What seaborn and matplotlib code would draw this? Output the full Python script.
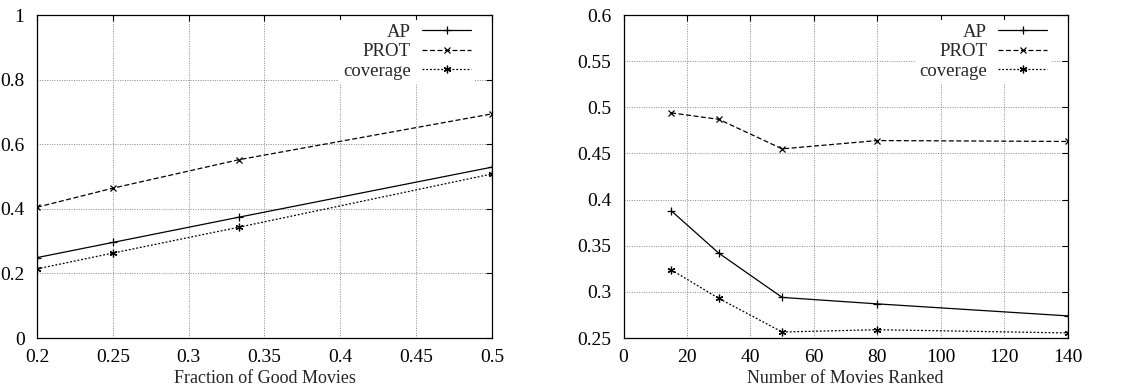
import numpy as np
import pandas as pd
import seaborn as sns
import matplotlib.pyplot as plt
from matplotlib.ticker import FormatStrFormatter

# left panel data
frac_good = [0.2, 0.25, 0.333, 0.5]
ap_frac = [0.249, 0.296, 0.374, 0.529]
prot_frac = [0.405, 0.464, 0.552, 0.694]
cov_frac = [0.214, 0.263, 0.343, 0.508]

# right panel data
n_ranked = [15, 30, 50, 80, 140]
ap_rank = [0.388, 0.342, 0.294, 0.287, 0.274]
prot_rank = [0.494, 0.487, 0.455, 0.464, 0.463]
cov_rank = [0.324, 0.293, 0.2565, 0.259, 0.2555]

series_names = ['AP', 'PROT', 'coverage']

sns.set_style("white")
plt.rcParams['font.family'] = ['Liberation Serif', 'DejaVu Serif']

styles = {'AP': dict(ls='-', marker='+', ms=6),
          'PROT': dict(ls=(0, (4, 2)), marker='x', ms=4),
          'coverage': dict(ls=(0, (1.5, 1.5)), marker=(6, 2, 0), ms=5.5)}

fig = plt.figure(figsize=(11.4, 3.91), dpi=100)
ax1 = fig.add_axes([0.0325, 0.1355, 0.399, 0.826])
ax2 = fig.add_axes([0.547, 0.1355, 0.3895, 0.826])


def draw(ax, x, ys, xlim, ylim, xticks, yticks, xlabel):
    for name, y in zip(series_names, ys):
        st = styles[name]
        sns.lineplot(x=x, y=y, ax=ax, color='black', lw=0.9, linestyle=st['ls'],
                     marker=st['marker'], markersize=st['ms'], markeredgewidth=0.9,
                     markeredgecolor='black', label=name)
    ax.set_xlim(*xlim)
    ax.set_ylim(*ylim)
    ax.set_xticks(xticks)
    ax.set_yticks(yticks)
    ax.xaxis.set_major_formatter(FormatStrFormatter('%g'))
    ax.yaxis.set_major_formatter(FormatStrFormatter('%g'))
    ax.grid(True, color='#888888', ls=(0, (1, 1.5)), lw=0.7)
    ax.tick_params(direction='in', top=True, right=True, length=4, width=0.8,
                   labelsize=14, colors='black')
    ax.tick_params(axis='x', pad=8)
    ax.tick_params(axis='y', pad=9)
    for s in ax.spines.values():
        s.set_color('black')
        s.set_linewidth(0.9)
    ax.set_xlabel(xlabel, fontsize=13, labelpad=3)
    ax.set_ylabel('')
    leg = ax.legend(loc='upper right', bbox_to_anchor=(0.962, 0.985), markerfirst=False,
                    frameon=True, fancybox=False, fontsize=13.5, handlelength=2.6,
                    labelspacing=0.13, borderpad=0.2, borderaxespad=0, handletextpad=0.6)
    leg.get_frame().set_edgecolor('none')
    leg.get_frame().set_facecolor('white')
    leg.get_frame().set_alpha(1)


draw(ax1, frac_good, [ap_frac, prot_frac, cov_frac], (0.2, 0.5), (0, 1),
     [0.2, 0.25, 0.3, 0.35, 0.4, 0.45, 0.5], [0, 0.2, 0.4, 0.6, 0.8, 1],
     'Fraction of Good Movies')
draw(ax2, n_ranked, [ap_rank, prot_rank, cov_rank], (0, 140), (0.25, 0.6),
     list(range(0, 141, 20)), [0.25, 0.3, 0.35, 0.4, 0.45, 0.5, 0.55, 0.6],
     'Number of Movies Ranked')

plt.savefig('out.png', dpi=100)
